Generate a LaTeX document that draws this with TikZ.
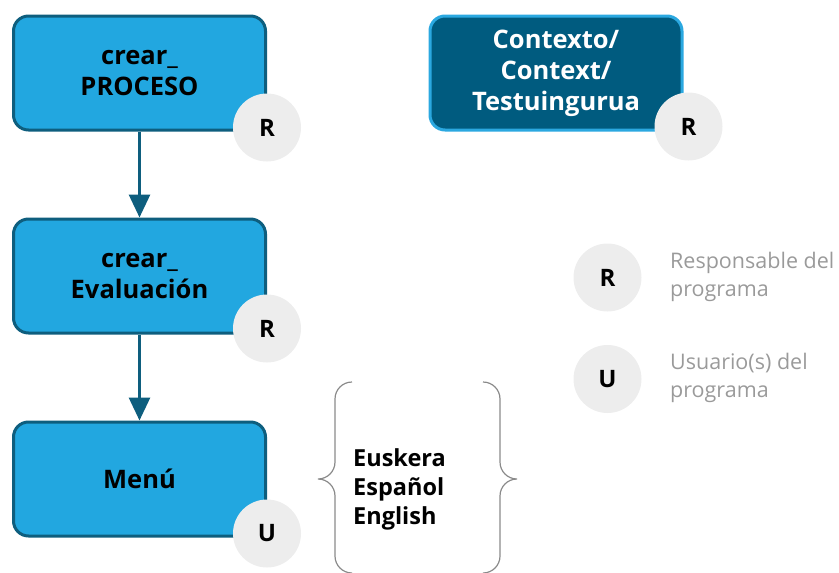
\documentclass[tikz,border=0pt]{standalone}
\usepackage{fontspec}
\setmainfont{Open Sans}
\usetikzlibrary{positioning,calc,arrows.meta}
\definecolor{procfill}{HTML}{22A7E0}
\definecolor{procline}{HTML}{0E5E7E}
\definecolor{ctxfill}{HTML}{005B7F}
\definecolor{ctxline}{HTML}{2BA8E0}
\definecolor{rolefill}{HTML}{EDEDED}
\definecolor{legray}{HTML}{9A9A9A}
\definecolor{bracegray}{HTML}{8A8A8A}

\begin{document}
\begin{tikzpicture}[x=1pt,y=1pt,
   proc/.style={draw=procline,fill=procfill,line width=3pt,rounded corners=15pt,
     minimum width=252pt,minimum height=114pt,align=center,
     font=\fontsize{25.5}{31}\selectfont\bfseries},
   ctx/.style={proc,draw=ctxline,fill=ctxfill,text=white},
   role/.style={circle,fill=rolefill,minimum size=68pt,inner sep=0pt,
     font=\fontsize{24}{26}\selectfont\bfseries},
   legtext/.style={anchor=west,align=left,text=legray,inner sep=0pt,
     font=\fontsize{21.5}{28.5}\selectfont},
   flow/.style={draw=procline,line width=3pt,-{Triangle[width=21pt,length=23pt]}},
   lbrace/.style={draw=bracegray,line width=1.2pt},
   node distance=86pt]

 \useasboundingbox (0,0) rectangle (839,-573);

 %flusso del programma
 \node[proc] (p_proc) at (139.5,-73) {crear\_\\PROCESO};
 \node[proc, below=of p_proc] (p_eval) {crear\_\\Evaluación};
 \node[proc, below=of p_eval] (p_menu) {Menú};

 \node[role] (r_proc) at ($(p_proc.south east)+(0,4)$) {R};
 \node[role] (r_eval) at ($(p_eval.south east)+(0,6)$) {R};
 \node[role] (u_menu) at ($(p_menu.south east)+(0,4)$) {U};

 \draw[flow] (p_proc) -- (p_eval);
 \draw[flow] (p_eval) -- (p_menu);

 %contesto
 \node[ctx] (p_ctx) at (556,-73) {Contexto/\\Context/\\Testuingurua};
 \node[role] (r_ctx) at ($(p_ctx.south east)+(5,5)$) {R};

 %legenda
 \node[role] (leg_r) at (607.5,-277.5) {R};
 \node[role] (leg_u) at (607.5,-379) {U};
 \node[legtext] (leg_rt) at (670,-277) {Responsable del\\programa};
 \node[legtext] (leg_ut) at (670,-378) {Usuario(s) del\\programa};

 %lingue
 \node[anchor=west,align=left,inner sep=0pt,font=\fontsize{23.5}{29}\selectfont\bfseries]
   (langs) at (353,-489) {Euskera\\Español\\English};
 \draw[lbrace] (352,-382) to[out=180,in=90] (335,-399) -- (335,-462)
   to[out=-90,in=0] (318,-479) to[out=0,in=90] (335,-496) -- (335,-556)
   to[out=-90,in=180] (352,-573);
 \draw[lbrace] (483,-382) to[out=0,in=90] (500,-399) -- (500,-462)
   to[out=-90,in=180] (517,-479) to[out=180,in=90] (500,-496) -- (500,-556)
   to[out=-90,in=0] (483,-573);

\end{tikzpicture}
\end{document}
